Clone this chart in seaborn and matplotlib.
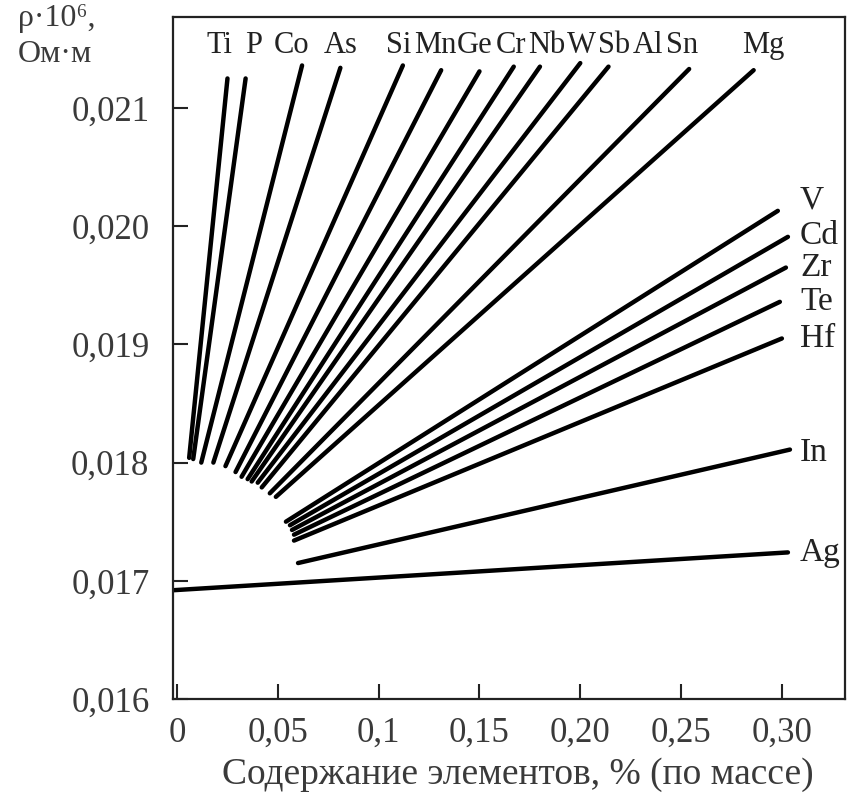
import pandas as pd
import matplotlib
matplotlib.use("Agg")
import matplotlib.pyplot as plt
import seaborn as sns

# -- Данные: начало и конец каждой прямой (содержание, %; rho*10^6, Ом*м)
elements = ["Ti", "P", "Co", "As", "Si", "Mn", "Ge", "Cr", "Nb", "W", "Sb", "AlSn", "Mg",
            "V", "Cd", "Zr", "Te", "Hf", "In", "Ag"]
x_start = [0.006, 0.008, 0.012, 0.018, 0.024, 0.029, 0.032, 0.035, 0.037, 0.040, 0.042, 0.046, 0.049,
           0.054, 0.056, 0.057, 0.058, 0.058, 0.060, -0.002]
y_start = [0.01804, 0.01803, 0.01800, 0.01800, 0.01797, 0.01792, 0.01788, 0.01786, 0.01784, 0.01783,
           0.01779, 0.01774, 0.01771,
           0.01750, 0.01747, 0.01743, 0.01739, 0.01734, 0.01715, 0.01692]
x_end = [0.025, 0.034, 0.062, 0.081, 0.112, 0.131, 0.150, 0.167, 0.180, 0.200, 0.214, 0.254, 0.286,
         0.298, 0.303, 0.302, 0.299, 0.300, 0.304, 0.303]
y_end = [0.02125, 0.02125, 0.02136, 0.02134, 0.02136, 0.02132, 0.02131, 0.02135, 0.02135, 0.02138,
         0.02135, 0.02133, 0.02132,
         0.02013, 0.01991, 0.01965, 0.01936, 0.01905, 0.01811, 0.01724]

# подписи сверху (Al и Sn - одна прямая)
top_labels = ["Ti", "P", "Co", "As", "Si", "Mn", "Ge", "Cr", "Nb", "W", "Sb", "Al", "Sn", "Mg"]
top_label_x = [0.021, 0.038, 0.057, 0.081, 0.110, 0.128, 0.1475, 0.1655, 0.1835, 0.2005, 0.217,
               0.2335, 0.2505, 0.291]
right_labels = ["V", "Cd", "Zr", "Te", "Hf", "In", "Ag"]
right_label_y = [0.02022, 0.01992, 0.01965, 0.01936, 0.01905, 0.01808, 0.01724]

x_ticks = [0, 0.05, 0.10, 0.15, 0.20, 0.25, 0.30]
x_ticklabels = ["0", "0,05", "0,1", "0,15", "0,20", "0,25", "0,30"]
y_ticks = [0.016, 0.017, 0.018, 0.019, 0.020, 0.021]
y_ticklabels = ["0,016", "0,017", "0,018", "0,019", "0,020", "0,021"]

rows = []
for el, xs, ys, xe, ye in zip(elements, x_start, y_start, x_end, y_end):
    rows.append({"element": el, "x": xs, "y": ys})
    rows.append({"element": el, "x": xe, "y": ye})
df = pd.DataFrame(rows)

sns.set_theme(style="white")
plt.rcParams["font.family"] = ["Liberation Serif", "DejaVu Serif"]
text_color = "#3a3a3a"

fig = plt.figure(figsize=(8.47, 7.98), dpi=100)
ax = fig.add_axes([0.2043, 0.1241, 0.7933, 0.8546])

sns.lineplot(data=df, x="x", y="y", units="element", estimator=None, sort=False,
             color="black", lw=3.2, ax=ax, legend=False)

ax.set_xlim(-0.002, 0.3313)
ax.set_ylim(0.016, 0.02177)
ax.set_xticks(x_ticks)
ax.set_xticklabels(x_ticklabels)
ax.set_yticks(y_ticks)
ax.set_yticklabels(y_ticklabels)
ax.tick_params(direction="in", length=11, width=1.5, colors="#222222", labelsize=25,
               labelcolor=text_color, bottom=True, left=True)
ax.tick_params(axis="y", pad=17)
ax.tick_params(axis="x", pad=13)
ax.set_xlabel("")
ax.set_ylabel("")
for sp in ax.spines.values():
    sp.set_color("#222222")
    sp.set_linewidth(1.6)

for lab, lx in zip(top_labels, top_label_x):
    ax.text(lx, 0.02153, lab, ha="center", va="center", fontsize=22, color="#222222")
for lab, ly in zip(right_labels, right_label_y):
    ax.text(0.309, ly, lab, ha="left", va="center", fontsize=24, color="#222222")

fig.text(0.021, 0.977, "ρ·10⁶,", ha="left", va="center", fontsize=23, color=text_color)
fig.text(0.021, 0.932, "Ом·м", ha="left", va="center", fontsize=23, color=text_color)
fig.text(0.611, 0.029, "Содержание элементов, % (по массе)", ha="center", va="center",
         fontsize=27, color=text_color)

fig.savefig("out.png", dpi=100)
